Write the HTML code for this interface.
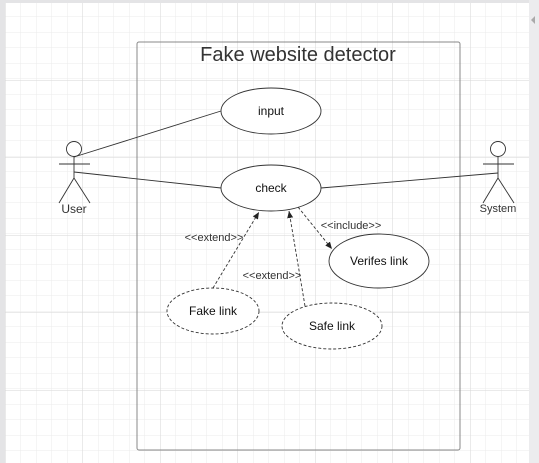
<!DOCTYPE html>
<html><head><meta charset="utf-8"><style>
html,body{margin:0;padding:0;background:#fff;}
svg{display:block;font-family:"Liberation Sans",sans-serif;}
</style></head><body>
<svg width="539" height="463" viewBox="0 0 539 463" xmlns="http://www.w3.org/2000/svg">
<defs>
<pattern id="minor" x="5" y="1" width="15.5" height="15.5" patternUnits="userSpaceOnUse">
<path d="M0 0H15.5M0 0V15.5" stroke="#ebebeb" stroke-width="1" fill="none"/>
</pattern>
<pattern id="major" x="5" y="2.5" width="77.5" height="77.5" patternUnits="userSpaceOnUse">
<path d="M0 0H77.5M0 0V77.5" stroke="#d6d6d6" stroke-width="1" fill="none"/>
</pattern>
<marker id="ah" markerWidth="8" markerHeight="8" refX="7" refY="4" orient="auto" markerUnits="userSpaceOnUse">
<path d="M0 1L7 4L0 7Z" fill="#222"/>
</marker>
</defs>
<rect width="539" height="463" fill="#fff"/>
<rect width="539" height="463" fill="url(#minor)"/>
<rect width="539" height="463" fill="url(#major)"/>
<rect x="0" y="0" width="5" height="463" fill="#e4e4e6"/>
<rect x="0" y="0" width="539" height="3" fill="#e4e4e6"/>
<rect x="529" y="0" width="10" height="463" fill="#ececee"/>
<path d="M531 20L535 16V24Z" fill="#aaa"/>

<rect x="137" y="42" width="323" height="408" rx="2" fill="none" stroke="#888" stroke-width="1"/>
<text x="298" y="61" font-size="20" text-anchor="middle" fill="#333">Fake website detector</text>

<g stroke="#333" stroke-width="0.9" fill="#fff">
<ellipse cx="271" cy="111" rx="50" ry="23"/>
<ellipse cx="271" cy="188" rx="50" ry="23"/>
<ellipse cx="379" cy="261" rx="50" ry="27"/>
<ellipse cx="213" cy="311" rx="46" ry="23" stroke-dasharray="3,2"/>
<ellipse cx="332" cy="326" rx="50" ry="23" stroke-dasharray="3,2"/>
</g>
<g font-size="12" text-anchor="middle" fill="#111">
<text x="271" y="115">input</text>
<text x="271" y="192">check</text>
<text x="379" y="265">Verifes link</text>
<text x="213" y="315">Fake link</text>
<text x="332" y="330">Safe link</text>
</g>

<g stroke="#333" stroke-width="0.9" fill="none">
<line x1="74" y1="157" x2="221" y2="111"/>
<line x1="74" y1="172" x2="221" y2="188"/>
<line x1="321" y1="188" x2="498" y2="173"/>
<!-- User -->
<circle cx="74" cy="149" r="7.5" fill="#fff"/>
<line x1="74" y1="157" x2="74" y2="178"/>
<line x1="59" y1="164" x2="90" y2="164"/>
<line x1="74" y1="178" x2="59" y2="203"/>
<line x1="74" y1="178" x2="90" y2="203"/>
<!-- System -->
<circle cx="498" cy="149" r="7.5" fill="#fff"/>
<line x1="498" y1="157" x2="498" y2="178"/>
<line x1="483" y1="164" x2="514" y2="164"/>
<line x1="498" y1="178" x2="483" y2="203"/>
<line x1="498" y1="178" x2="514" y2="203"/>
<!-- dashed arrows -->
<line x1="213" y1="288" x2="259" y2="212" stroke-dasharray="3,2" marker-end="url(#ah)"/>
<line x1="305" y1="306" x2="289" y2="211" stroke-dasharray="3,2" marker-end="url(#ah)"/>
<line x1="298" y1="207" x2="332" y2="249" stroke-dasharray="3,2" marker-end="url(#ah)"/>
</g>
<g fill="#333">
<text x="74" y="213" font-size="12" text-anchor="middle">User</text>
<text x="498" y="212" font-size="11" text-anchor="middle">System</text>
<text x="214" y="241" font-size="11" text-anchor="middle">&lt;&lt;extend&gt;&gt;</text>
<text x="272" y="279" font-size="11" text-anchor="middle">&lt;&lt;extend&gt;&gt;</text>
<text x="351" y="229" font-size="11" text-anchor="middle">&lt;&lt;include&gt;&gt;</text>
</g>
</svg>
</body></html>
